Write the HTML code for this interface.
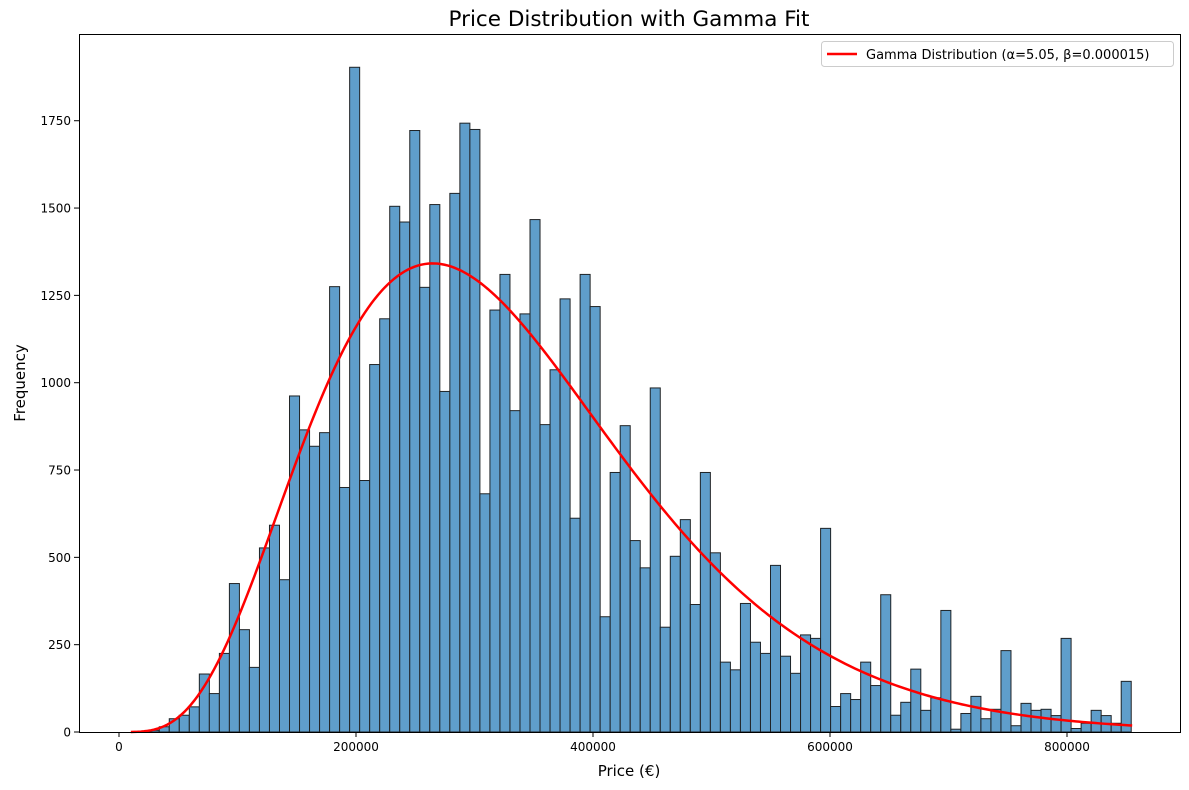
<!DOCTYPE html>
<html><head><meta charset="utf-8">
<style>
html,body{margin:0;padding:0;background:#fff;}
svg{display:block;font-family:"DejaVu Sans","Liberation Sans",sans-serif;}
</style></head>
<body>
<svg id="chart" width="1189" height="790" viewBox="0 0 1189 790">
<text x="629" y="26" font-size="21.5" text-anchor="middle">Price Distribution with Gamma Fit</text>
<text x="629" y="776" font-size="15" text-anchor="middle">Price (€)</text>
<text x="25" y="383" font-size="15" text-anchor="middle" transform="rotate(-90 25 383)">Frequency</text>
<g id="bars"></g>
<g id="curve"></g>
<g id="axes"></g>
<rect x="79.5" y="34.5" width="1101" height="698" fill="none" stroke="#000" stroke-width="1"/>
<g>
<rect x="821.5" y="41.5" width="352" height="25" rx="3" fill="#fff" fill-opacity="0.8" stroke="#ccc"/>
<line x1="827" y1="54" x2="857" y2="54" stroke="#f00" stroke-width="2.5"/>
<text x="866" y="59" font-size="13">Gamma Distribution (α=5.05, β=0.000015)</text>
</g>
</svg>
<script>
const binStart = 8600;
const binWidth = 8456;
const counts = [0,2,5,15,38,48,72,166,110,225,425,293,185,527,592,436,962,865,818,857,1275,700,1903,720,1052,1183,1505,1460,1722,1273,1510,975,1542,1743,1725,682,1208,1310,920,1197,1467,880,1037,1240,612,1310,1218,330,743,877,548,470,985,300,503,608,365,743,513,200,178,368,257,225,477,217,168,278,268,583,73,110,93,200,133,393,48,85,180,62,98,348,8,53,102,38,65,233,18,82,62,65,47,268,10,25,62,47,25,145];
const xTicks = [0,200000,400000,600000,800000];
const yTicks = [0,250,500,750,1000,1250,1500,1750];
const alpha = 5.05;
const rate = 0.0000153;
const curveRange = [10000, 855000];

const NS = "http://www.w3.org/2000/svg";
const px = v => 119 + v * 0.001185;
const py = c => 732 - c * 0.3493;

function mk(tag, attrs, parent){
  const e = document.createElementNS(NS, tag);
  for (const k in attrs) e.setAttribute(k, attrs[k]);
  parent.appendChild(e);
  return e;
}
const barsG = document.getElementById('bars');
counts.forEach((c, i) => {
  const x0 = px(binStart + i * binWidth), x1 = px(binStart + (i + 1) * binWidth);
  const r = mk('rect', {x: x0, y: py(c), width: x1 - x0, height: 732 - py(c), fill: '#5f9ecb', stroke: '#1f2326', 'stroke-width': 1}, barsG);
  
  
});

function lgamma(z){
  const g = 7, p = [0.99999999999980993,676.5203681218851,-1259.1392167224028,771.32342877765313,-176.61502916214059,12.507343278686905,-0.13857109526572012,9.9843695780195716e-6,1.5056327351493116e-7];
  z -= 1; let x = p[0];
  for (let i = 1; i < g + 2; i++) x += p[i] / (z + i);
  const t = z + g + 0.5;
  return 0.5 * Math.log(2 * Math.PI) + (z + 0.5) * Math.log(t) - t + Math.log(x);
}
const total = counts.reduce((a, b) => a + b, 0);
const lg = lgamma(alpha);
function pdf(x){ return Math.exp(alpha * Math.log(rate) + (alpha - 1) * Math.log(x) - rate * x - lg); }
let d = '';
for (let i = 0; i <= 300; i++){
  const x = curveRange[0] + (curveRange[1] - curveRange[0]) * i / 300;
  d += (i ? 'L' : 'M') + px(x).toFixed(2) + ',' + py(pdf(x) * total * binWidth).toFixed(2);
}
const path = mk('path', {d: d, fill: 'none', stroke: '#f00', 'stroke-width': 2.5}, document.getElementById('curve'));



const axes = document.getElementById('axes');
xTicks.forEach(t => {
  const l = mk('line', {x1: px(t), x2: px(t), y1: 732, y2: 737, stroke: '#000'}, axes);
  
  
  const tx = mk('text', {x: px(t), y: 751, 'font-size': 12, 'text-anchor': 'middle'}, axes);
  tx.textContent = t;
  
  
});
yTicks.forEach(t => {
  const l = mk('line', {x1: 74, x2: 79, y1: py(t), y2: py(t), stroke: '#000'}, axes);
  
  
  const tx = mk('text', {x: 71, y: py(t) + 4.5, 'font-size': 12, 'text-anchor': 'end'}, axes);
  tx.textContent = t;
  
  
});
</script>
</body></html>
